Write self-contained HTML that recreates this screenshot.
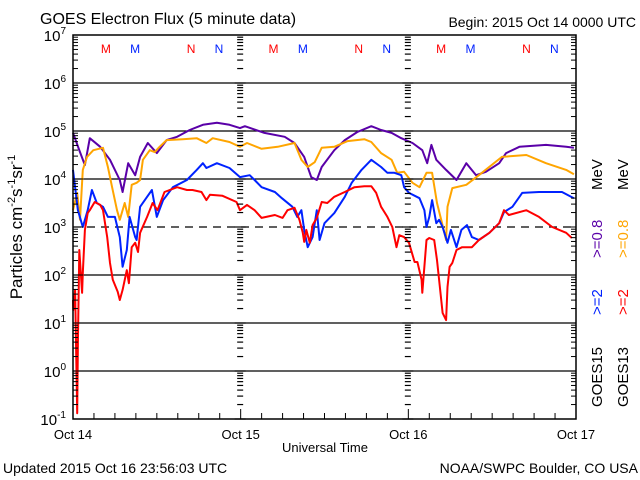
<!DOCTYPE html>
<html><head><meta charset="utf-8"><style>
html,body{margin:0;padding:0;background:#fff;}
svg{display:block;font-family:"Liberation Sans","DejaVu Sans",sans-serif;}
</style></head><body>
<svg id="chart" width="640" height="480" viewBox="0 0 640 480" xmlns="http://www.w3.org/2000/svg">
<rect x="0" y="0" width="640" height="480" fill="#fff"/>
<text x="40" y="24" font-size="16">GOES Electron Flux (5 minute data)</text>
<text x="636" y="27" font-size="14" text-anchor="end">Begin: 2015 Oct 14 0000 UTC</text>
<text transform="translate(22,227) rotate(-90)" font-size="17" text-anchor="middle">Particles cm<tspan font-size="11" dy="-7">-2</tspan><tspan dy="7">s</tspan><tspan font-size="11" dy="-7">-1</tspan><tspan dy="7">sr</tspan><tspan font-size="11" dy="-7">-1</tspan></text>
<text x="325" y="452" font-size="13" text-anchor="middle">Universal Time</text>
<text x="3" y="473" font-size="14">Updated 2015 Oct 16 23:56:03 UTC</text>
<text x="638" y="473" font-size="14" text-anchor="end">NOAA/SWPC Boulder, CO USA</text>
<g transform="translate(602,407) rotate(-90)" font-size="15">
<text x="0" y="0">GOES15</text><text x="92" y="0" fill="#0022ff">&gt;=2</text><text x="149" y="0" fill="#5a00a8">&gt;=0.8</text><text x="217" y="0">MeV</text>
</g>
<g transform="translate(628,407) rotate(-90)" font-size="15">
<text x="0" y="0">GOES13</text><text x="92" y="0" fill="#ff0000">&gt;=2</text><text x="149" y="0" fill="#ffa500">&gt;=0.8</text><text x="217" y="0">MeV</text>
</g>
<g id="grid"></g>
<g id="series"></g>
<g id="frame"></g>
</svg>
<script>
// hours since 2015 Oct 14 00:00 UTC, and log10 flux values
const purpleT=[0,1.0,1.7,2.4,3.9,5.3,6.7,7.1,7.9,8.9,9.6,10.7,12.0,13.4,14.9,16.7,18.6,20.6,22.4,23.9,24.6,27.4,30.3,31.7,33.1,34.1,34.9,35.6,37.4,38.9,40.7,42.7,44.1,45.6,47.0,48.6,50.0,50.7,51.3,52.0,53.4,54.9,56.3,57.7,59.1,61.0,62.0,63.9,67.7,70.6,71.7];
const purpleV=[4.96,4.56,4.29,4.85,4.67,4.40,3.98,3.73,4.33,4.08,4.46,4.75,4.54,4.81,4.88,5.02,5.13,5.17,5.13,5.06,5.10,4.96,4.88,4.75,4.46,4.04,3.98,4.25,4.60,4.81,4.98,5.10,5.02,4.96,4.85,4.75,4.60,4.33,4.71,4.40,4.19,3.98,4.33,4.08,4.15,4.33,4.54,4.67,4.71,4.67,4.65];
const orangeT=[0,0.6,1.0,1.4,2.0,2.9,4.3,5.0,5.6,6.3,6.7,7.4,7.9,8.4,9.1,9.6,10.0,11.0,11.7,12.4,13.4,15.7,17.7,19.1,20.0,22.4,23.9,24.9,27.0,29.3,31.7,32.7,33.6,34.6,35.6,37.4,39.3,41.7,42.7,44.1,45.6,46.4,47.4,48.6,49.6,50.6,51.4,52.1,52.7,53.4,53.6,54.3,56.3,58.1,61.4,64.9,67.7,70.6,71.7];
const orangeV=[3.35,3.71,3.15,4.19,4.46,4.60,4.65,4.25,3.83,3.35,3.15,3.50,3.21,3.88,3.92,3.98,4.40,4.60,4.56,4.67,4.81,4.83,4.85,4.75,4.85,4.77,4.67,4.75,4.63,4.67,4.75,4.40,4.25,4.35,4.65,4.67,4.79,4.83,4.77,4.54,4.40,4.13,4.15,3.92,3.83,4.13,4.13,3.50,3.15,2.73,3.42,3.81,3.88,4.08,4.46,4.50,4.33,4.19,4.10];
const blueT=[0,0.3,0.7,1.4,2.1,2.7,3.4,4.3,5.0,6.0,6.7,7.1,7.7,8.1,8.9,9.1,9.6,10.6,11.3,12.0,12.9,14.3,16.3,17.7,18.6,19.1,20.6,22.4,23.9,25.3,26.0,27.0,28.9,29.9,31.4,32.1,32.7,33.1,33.6,34.3,34.9,35.3,36.0,37.4,38.9,39.9,41.3,42.7,44.1,45.0,46.0,47.0,47.4,48.1,49.6,50.3,50.6,51.0,51.4,52.0,52.4,52.9,53.6,54.1,54.9,55.6,56.4,57.1,58.1,59.6,61.0,61.7,62.9,64.3,66.7,70.0,71.7];
const blueV=[4.19,3.83,3.35,3.00,3.35,3.77,3.50,3.42,3.21,3.21,2.79,2.17,2.52,3.21,2.79,2.73,3.42,3.63,3.77,3.21,3.56,3.83,3.98,4.19,4.33,4.23,4.33,4.23,4.04,4.08,3.98,3.83,3.73,3.60,3.42,3.21,3.35,2.94,2.58,2.79,3.35,2.73,3.08,3.29,3.63,3.92,4.19,4.40,4.25,4.13,4.13,4.08,3.83,3.71,3.60,3.35,3.00,3.21,3.56,3.08,3.15,3.00,2.67,2.94,2.58,2.94,3.04,2.79,2.73,2.88,3.08,3.31,3.42,3.71,3.73,3.73,3.60];
const redT=[0,0.05,0.3,0.6,0.7,0.9,1.3,1.4,1.7,2.1,2.4,3.1,3.9,4.3,4.9,5.3,5.7,6.4,6.7,7.1,7.7,8.0,8.4,8.9,9.3,9.6,10.6,11.4,12.1,13.1,14.9,16.3,17.1,18.4,19.1,19.6,21.4,23.4,23.9,24.9,26.0,27.0,28.9,30.0,30.7,31.7,32.4,32.9,33.1,33.4,33.9,34.3,34.9,35.6,36.4,37.4,38.9,40.3,41.7,42.7,43.4,44.1,45.0,45.7,46.3,46.7,47.4,48.1,48.9,49.3,49.9,50.0,50.6,51.0,51.7,52.1,52.4,52.9,53.4,53.6,53.9,54.3,54.9,55.7,57.1,58.1,59.6,61.0,61.7,62.4,64.9,66.7,68.6,70.6,71.4];
const redV=[1.48,1.27,1.69,-0.88,0.58,2.52,1.63,2.04,2.94,3.29,3.35,3.52,3.46,3.35,2.79,2.25,1.90,1.65,1.48,1.69,2.10,1.83,2.58,2.67,2.48,2.88,3.21,3.50,3.35,3.73,3.83,3.77,3.77,3.73,3.56,3.67,3.65,3.52,3.35,3.46,3.35,3.19,3.25,3.19,3.35,3.40,3.15,2.88,2.69,2.94,2.67,3.04,3.19,3.52,3.50,3.63,3.73,3.83,3.85,3.85,3.71,3.42,3.21,3.00,2.58,2.83,2.79,2.67,2.27,2.27,1.90,1.63,2.73,2.77,2.73,2.31,1.90,1.21,1.06,1.75,2.17,2.25,2.52,2.58,2.58,2.73,2.88,3.08,3.35,3.25,3.35,3.21,3.00,2.88,2.77];
const decades=[7,6,5,4,3,2,1,0,-1];
const dayLabels=["Oct 14","Oct 15","Oct 16","Oct 17"];
const markerLabels=["M","M","N","N"];
const markerHours=[4.7,8.9,16.9,20.9];

const X0=73,X1=576,Y0=35,Y1=419;
const xs=h=>X0+h*(X1-X0)/72;
const ys=v=>Y0+(7-v)*(Y1-Y0)/8;
const NS="http://www.w3.org/2000/svg";
function mk(parent,tag,attrs,txt){const e=document.createElementNS(NS,tag);for(const k in attrs)e.setAttribute(k,attrs[k]);if(txt!==undefined)e.textContent=txt;parent.appendChild(e);return e;}
const grid=document.getElementById('grid'),series=document.getElementById('series'),frame=document.getElementById('frame');

decades.forEach(d=>{
  const y=ys(d);
  if(d<7&&d>-1){
    const l=mk(grid,'line',{x1:X0,x2:X1,y1:y,y2:y,stroke:'#000','stroke-width':1.3});
    if(d===3)l.setAttribute('stroke-dasharray','8,6');
    
    
  }
  const t=mk(frame,'text',{x:66,y:y+6,'font-size':15,'text-anchor':'end'});
  
  
  const b=document.createElementNS(NS,'tspan');b.textContent='10';t.appendChild(b);
  const s=document.createElementNS(NS,'tspan');s.setAttribute('font-size','10');s.setAttribute('dy','-7');s.textContent=String(d);t.appendChild(s);
});
const dayX=[0,24,48,72].map(xs);
for(let d=-1;d<7;d++){
  for(let m=1;m<10;m++){
    const y=ys(d+Math.log10(m));
    const len=m===1?10:5;
    mk(frame,'line',{x1:X0,x2:X0+len,y1:y,y2:y,stroke:'#000','stroke-width':1});
    mk(frame,'line',{x1:X1-len,x2:X1,y1:y,y2:y,stroke:'#000','stroke-width':1});
    [dayX[1],dayX[2]].forEach(x=>{mk(frame,'line',{x1:x-len/2-1,x2:x+len/2,y1:y,y2:y,stroke:'#000','stroke-width':1.2});});
  }
}
for(let h=0;h<=72;h+=3){
  const x=xs(h),len=h%24===0?10:6;
  mk(frame,'line',{x1:x,x2:x,y1:Y1,y2:Y1-len,stroke:'#000','stroke-width':1});
}
dayLabels.forEach((lab,i)=>{
  const t=mk(frame,'text',{x:xs(i*24),y:439,'font-size':13,'text-anchor':'middle'},lab);
  
  
});
for(let day=0;day<3;day++){
  markerHours.forEach((h,i)=>{
    const t=mk(frame,'text',{x:xs(day*24+h),y:53,'font-size':12,'text-anchor':'middle',fill:i%2===0?'#ff0000':'#0022ff'},markerLabels[i]);
    
    
  });
}
const fr=mk(frame,'rect',{x:X0,y:Y0,width:X1-X0,height:Y1-Y0,fill:'none',stroke:'#000','stroke-width':1.5});



function line(T,V,color,name){
  const pts=T.map((t,i)=>xs(t).toFixed(1)+','+ys(V[i]).toFixed(1)).join(' ');
  const p=mk(series,'polyline',{points:pts,fill:'none',stroke:color,'stroke-width':2,'stroke-linejoin':'round'});
  
  
}
line(purpleT,purpleV,'#5a00a8','series-goes15-0.8mev');
line(orangeT,orangeV,'#ffa500','series-goes13-0.8mev');
line(blueT,blueV,'#0022ff','series-goes15-2mev');
line(redT,redV,'#ff0000','series-goes13-2mev');
</script>
</body></html>
